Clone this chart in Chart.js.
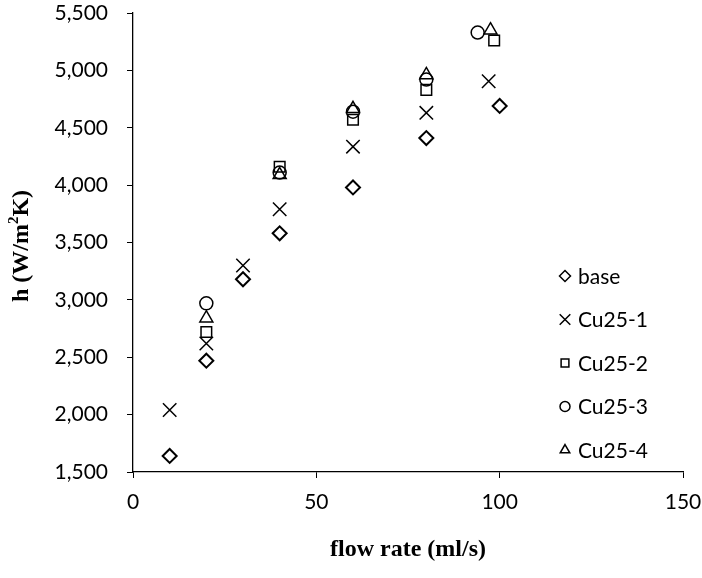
<!DOCTYPE html>
<html>
<head>
<meta charset="utf-8">
<script src="https://cdn.jsdelivr.net/npm/chart.js@4/dist/chart.umd.min.js"></script>
<style>
  html, body { margin: 0; padding: 0; background: #fff; }
  #wrap { width: 702px; height: 578px; }
</style>
</head>
<body>
<div id="wrap"><canvas id="c" width="702" height="578"></canvas></div>
<script>
// flow rate (ml/s) and heat transfer coefficient h (W/m²K)
const baseFlow = [10, 20, 30, 40, 60, 80, 100];
const baseH    = [1640, 2470, 3180, 3580, 3980, 4410, 4690];

const cu1Flow = [10, 20, 30, 40, 60, 80, 97];
const cu1H    = [2040, 2620, 3300, 3790, 4335, 4630, 4905];

const cu2Flow = [20, 40, 60, 80, 98.5];
const cu2H    = [2720, 4160, 4570, 4830, 5260];

const cu3Flow = [20, 40, 60, 80, 94];
const cu3H    = [2970, 4110, 4640, 4920, 5330];

const cu4Flow = [20, 40, 60, 80, 97.5];
const cu4H    = [2840, 4090, 4665, 4960, 5350];

const seriesNames = ['base', 'Cu25-1', 'Cu25-2', 'Cu25-3', 'Cu25-4'];
const xTicks = [0, 50, 100, 150];
const yTicks = [1500, 2000, 2500, 3000, 3500, 4000, 4500, 5000, 5500];

const TICK_FONT = { family: 'Lato, "Open Sans", sans-serif', size: 21 };
const TITLE_FONT = { family: '"Liberation Serif", "Times New Roman", serif', size: 24, weight: 'bold' };

const pts = (xs, ys) => xs.map((x, i) => ({ x, y: ys[i] }));

// marker styles per series: [pointStyle, radius, lineWidth, legend radius]
const markers = [
  ['rectRot',  7,   2,   5.5],
  ['crossRot', 9.5, 1.5, 7.5],
  ['rect',     7.5, 1.5, 5.5],
  ['circle',   6.5, 1.5, 5],
  ['triangle', 7.5, 1.5, 5.5]
];

const dataSets = [
  pts(baseFlow, baseH), pts(cu1Flow, cu1H), pts(cu2Flow, cu2H),
  pts(cu3Flow, cu3H), pts(cu4Flow, cu4H)
];

// legend drawn inside plot, bottom right
const legendPlugin = {
  id: 'cornerLegend',
  afterDraw(chart) {
    const ctx = chart.ctx;
    ctx.save();
    ctx.textBaseline = 'middle';
    seriesNames.forEach((name, i) => {
      const y = 276 + i * 43.5;
      const m = markers[i];
      ctx.strokeStyle = '#000';
      ctx.fillStyle = '#fff';
      ctx.lineWidth = 1.5;
      Chart.helpers.drawPoint(ctx, { pointStyle: m[0], radius: m[3], borderWidth: 1.5 }, 565, y);
      ctx.fillStyle = '#000';
      ctx.font = TICK_FONT.size + 'px ' + TICK_FONT.family;
      ctx.fillText(name, 578, y + 1);
    });
    ctx.restore();
  }
};

// y title with superscript
const yTitlePlugin = {
  id: 'yTitle',
  afterDraw(chart) {
    const ctx = chart.ctx;
    ctx.save();
    ctx.translate(22, 246);
    ctx.rotate(-Math.PI / 2);
    ctx.fillStyle = '#000';
    ctx.textBaseline = 'middle';
    const big = 'bold ' + TITLE_FONT.size + 'px ' + TITLE_FONT.family;
    const small = 'bold 15px ' + TITLE_FONT.family;
    const parts = [['h (W/m', big, 0], ['2', small, -8], ['K)', big, 0]];
    let total = 0;
    parts.forEach(p => { ctx.font = p[1]; total += ctx.measureText(p[0]).width; });
    let x = -total / 2;
    parts.forEach(p => {
      ctx.font = p[1];
      ctx.fillText(p[0], x, p[2]);
      x += ctx.measureText(p[0]).width;
    });
    ctx.restore();
  }
};

new Chart(document.getElementById('c'), {
  type: 'scatter',
  data: {
    datasets: dataSets.map((d, i) => ({
      label: seriesNames[i],
      data: d,
      pointStyle: markers[i][0],
      pointRadius: markers[i][1],
      pointBorderWidth: markers[i][2],
      pointBackgroundColor: 'rgba(0,0,0,0)',
      pointBorderColor: '#000',
      borderColor: '#000',
      pointHoverRadius: markers[i][1]
    }))
  },
  options: {
    responsive: false,
    animation: false,
    layout: { padding: { left: 0, right: 19, top: 13, bottom: 0 } },
    plugins: { legend: { display: false }, tooltip: { enabled: false } },
    scales: {
      x: {
        type: 'linear', min: 0, max: 150,
        afterBuildTicks: s => { s.ticks = xTicks.map(v => ({ value: v })); },
        afterFit: s => { s.height = 106; s.paddingLeft = 0; s.paddingRight = 0; },
        grid: { drawOnChartArea: false, drawTicks: true, tickLength: 6, color: '#000' },
        border: { color: '#000', width: 1.3 },
        ticks: { color: '#000', font: TICK_FONT, padding: 12, maxRotation: 0 },
        title: { display: true, text: 'flow rate (ml/s)', color: '#000', font: TITLE_FONT, padding: { top: 4, bottom: 14 } }
      },
      y: {
        type: 'linear', min: 1500, max: 5500,
        afterBuildTicks: s => { s.ticks = yTicks.map(v => ({ value: v })); },
        afterFit: s => { s.width = 133; s.paddingTop = 0; s.paddingBottom = 0; },
        grid: { drawOnChartArea: false, drawTicks: true, tickLength: 6, color: '#000' },
        border: { color: '#000', width: 1.3 },
        ticks: { color: '#000', font: TICK_FONT, padding: 19, callback: v => v.toLocaleString('en-US') }
      }
    }
  },
  plugins: [legendPlugin, yTitlePlugin]
});
</script>
</body>
</html>
